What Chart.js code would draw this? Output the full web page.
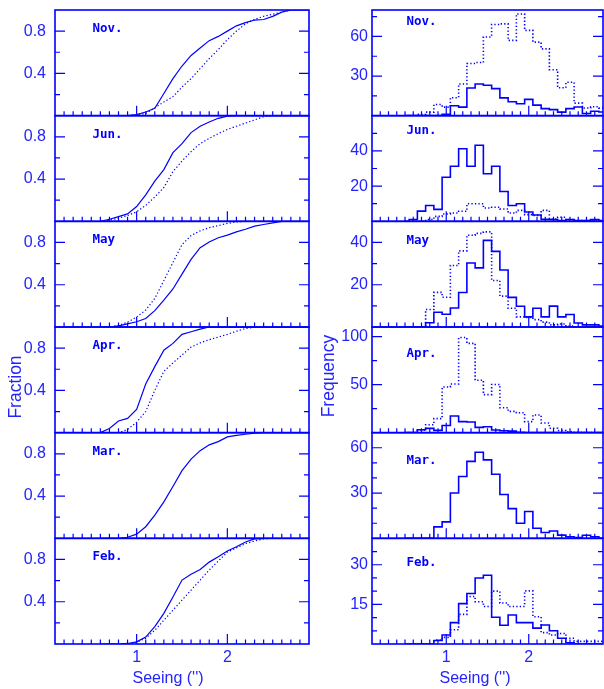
<!DOCTYPE html>
<html lang="en">
<head>
<meta charset="UTF-8" />
<title>Seeing by month</title>
<script src="https://cdn.jsdelivr.net/npm/chart.js"></script>
<style>
  body { margin: 0; background: #fff; }
  #wrap { position: relative; width: 604px; height: 689px; }
  #wrap canvas { position: absolute; left: 0; top: 0; }
</style>
</head>
<body>
<div id="wrap"></div>
<script>
// ---- data ----
const months = ['Nov.', 'Jun.', 'May', 'Apr.', 'Mar.', 'Feb.'];
const seeing = [0.6, 0.7, 0.8, 0.9, 1.0, 1.1, 1.2, 1.3, 1.4, 1.5, 1.6, 1.7, 1.8, 1.9, 2.0, 2.1, 2.2, 2.3, 2.4, 2.5, 2.6, 2.7, 2.8, 2.9];
const xTickLabels = ['1', '2'];
const fracTickLabels = ['0.4', '0.8'];
const freqTickLabels = [['30', '60'], ['20', '40'], ['20', '40'], ['50', '100'], ['30', '60'], ['15', '30']];
const freqMax = [80, 60, 50, 110, 70, 40];
const freqStep = [15, 10, 10, 25, 10, 5];

// cumulative fraction (left column)
const fracNovSolid  = [0, 0, 0, 0, 0.01, 0.035, 0.07, 0.21, 0.35, 0.47, 0.57, 0.64, 0.71, 0.75, 0.80, 0.85, 0.88, 0.905, 0.91, 0.94, 0.98, 1, 1, 1];
const fracNovDotted = [0, 0, 0, 0, 0.01, 0.02, 0.075, 0.13, 0.18, 0.27, 0.35, 0.445, 0.54, 0.625, 0.72, 0.80, 0.87, 0.91, 0.94, 0.96, 0.98, 1, 1, 1];
const fracJunSolid  = [0, 0.02, 0.045, 0.07, 0.14, 0.25, 0.38, 0.49, 0.65, 0.735, 0.84, 0.90, 0.94, 0.975, 0.995, 1, 1, 1, 1, 1, 1, 1, 1, 1];
const fracJunDotted = [0, 0.01, 0.03, 0.055, 0.09, 0.15, 0.23, 0.32, 0.47, 0.57, 0.66, 0.735, 0.785, 0.83, 0.87, 0.90, 0.93, 0.96, 0.99, 1, 1, 1, 1, 1];
const fracMaySolid  = [0, 0, 0.01, 0.03, 0.05, 0.08, 0.155, 0.255, 0.36, 0.5, 0.64, 0.75, 0.805, 0.845, 0.87, 0.9, 0.925, 0.955, 0.97, 0.985, 1, 1, 1, 1];
const fracMayDotted = [0, 0, 0.015, 0.045, 0.095, 0.16, 0.27, 0.44, 0.61, 0.78, 0.865, 0.91, 0.94, 0.96, 0.98, 0.995, 1, 1, 1, 1, 1, 1, 1, 1];
const fracAprSolid  = [0, 0.04, 0.11, 0.135, 0.22, 0.46, 0.625, 0.78, 0.845, 0.93, 0.955, 0.98, 1, 1, 1, 1, 1, 1, 1, 1, 1, 1, 1, 1];
const fracAprDotted = [0, 0, 0, 0.03, 0.1, 0.2, 0.4, 0.58, 0.66, 0.735, 0.81, 0.85, 0.88, 0.905, 0.93, 0.96, 0.985, 1, 1, 1, 1, 1, 1, 1];
const fracMarSolid  = [0, 0, 0, 0.01, 0.04, 0.11, 0.22, 0.345, 0.49, 0.64, 0.75, 0.83, 0.885, 0.915, 0.96, 0.975, 0.985, 0.995, 1, 1, 1, 1, 1, 1];
const fracFebSolid  = [0, 0, 0, 0.005, 0.02, 0.065, 0.165, 0.29, 0.445, 0.605, 0.66, 0.705, 0.775, 0.825, 0.88, 0.92, 0.965, 0.995, 1, 1, 1, 1, 1, 1];
const fracFebDotted = [0, 0, 0, 0, 0.015, 0.055, 0.13, 0.225, 0.32, 0.415, 0.51, 0.605, 0.7, 0.785, 0.87, 0.91, 0.95, 0.975, 0.995, 1, 1, 1, 1, 1];

// histograms, 0.1" bins centred on `seeing` (right column)
const histNovSolid  = [0, 0, 0, 0, 1, 7.5, 6.5, 21, 24, 23, 20.5, 13.5, 10.5, 9, 12.3, 8, 5.3, 4.6, 2.7, 5.3, 6.6, 1.6, 3.3, 2.8];
const histNovDotted = [0, 1, 2.7, 8.4, 6.5, 13.6, 24, 39.5, 40.2, 59.6, 69, 69.5, 57, 77, 64.6, 55.7, 50.6, 34.8, 21.1, 25.3, 9.5, 5.8, 6.7, 5.7];
const histJunSolid  = [1, 5.8, 9, 6.8, 25, 31.3, 41.2, 31.3, 43.2, 27, 31.3, 16.9, 9, 10, 5.3, 3.6, 1.2, 1, 0.5, 1, 0.5, 0.5, 1, 0.5];
const histJunDotted = [0, 0, 1, 2.8, 4.2, 4.7, 5.7, 10, 10, 7.6, 8, 7, 4.7, 6.2, 3.8, 3.4, 6.2, 1.3, 2.3, 1, 0.5, 0.5, 0.5, 0.5];
const histMaySolid  = [0, 0, 2, 7, 6, 9, 16.3, 30.3, 28, 41, 35.8, 27, 14, 9.8, 4.8, 8.9, 4.8, 9.9, 4.8, 5.9, 1.9, 1, 1, 0.5];
const histMayDotted = [0, 0, 8.3, 16.4, 14.1, 29.1, 36, 43.4, 44.3, 45, 22, 14.6, 8.9, 4.8, 4.5, 3.5, 2.3, 1, 1.4, 0.5, 0, 0, 0, 0];
const histAprSolid  = [0, 3, 4.5, 2.4, 7.5, 17.4, 11.5, 11.1, 5.5, 6.2, 2.7, 2, 1.6, 0.5, 0, 0, 0, 0, 0, 0, 0, 0, 0, 0];
const histAprDotted = [0, 2.5, 8.3, 14.6, 47.5, 50.7, 99, 93, 54.6, 39.6, 50.2, 26, 22.2, 20.7, 11.5, 18.4, 10, 4.6, 2.3, 1, 0.5, 0, 0, 0];
const histMarSolid  = [0, 0, 0, 7.6, 10.9, 30, 41, 51, 57, 52, 42.5, 29, 19.7, 10, 17.8, 6.7, 3.9, 4.9, 2.1, 1, 0.5, 2, 1, 0];
const histFebSolid  = [0, 0, 0, 1.3, 3.4, 8.1, 15.3, 19.1, 25, 26, 10.1, 7.1, 11, 8.1, 8.1, 6, 7.2, 5, 2.2, 0.5, 0, 0, 0, 0];
const histFebDotted = [0, 0, 0, 1.5, 2.5, 5.4, 11.2, 18, 16, 14.2, 20, 15.5, 14.2, 14.2, 20.1, 10.3, 4.3, 3.4, 4, 2.2, 1, 1, 1, 1];

const fracSeries = [
  [fracNovSolid, fracNovDotted], [fracJunSolid, fracJunDotted], [fracMaySolid, fracMayDotted],
  [fracAprSolid, fracAprDotted], [fracMarSolid], [fracFebSolid, fracFebDotted]
];
const histSeries = [
  [histNovSolid, histNovDotted], [histJunSolid, histJunDotted], [histMaySolid, histMayDotted],
  [histAprSolid, histAprDotted], [histMarSolid], [histFebSolid, histFebDotted]
];

// ---- layout / style ----
const BLUE = '#0000ff';
const INK = '#2424ff';
const SANS = '"Liberation Sans", Arial, sans-serif';
const W = 604, H = 689;
const TOP = 10, BOTTOM = 644, ROW_H = (BOTTOM - TOP) / 6;
const COLS = [
  { left: 55, right: 309, axisW: 55, labelPad: 9, monthX: 92.5, monthDy: [17.6, 17.6, 17.6, 17.6, 17.6, 17.6],
    yTitle: 'Fraction', yTitleX: 16, yTitleY: 387, xTitleX: 168 },
  { left: 372, right: 603, axisW: 57, labelPad: 4, monthX: 406.5, monthDy: [10, 14, 18.5, 25.3, 26.7, 23],
    yTitle: 'Frequency', yTitleX: 329, yTitleY: 376, xTitleX: 475 }
];

const wrap = document.getElementById('wrap');

function histPoints(counts) {
  const pts = [{ x: seeing[0] - 0.1, y: 0 }];
  counts.forEach((c, i) => pts.push({ x: seeing[i], y: c }));
  pts.push({ x: seeing[seeing.length - 1] + 0.1, y: 0 });
  return pts;
}

function cdfPoints(frac) {
  return frac.map((f, i) => ({ x: seeing[i], y: f }));
}

function panel(col, row) {
  const c = COLS[col];
  const top = TOP + row * ROW_H, bottom = top + ROW_H;
  const last = row === 5;
  const xH = last ? 45 : 0;
  const isHist = col === 1;
  const series = isHist ? histSeries[row] : fracSeries[row];
  const yLabels = isHist ? freqTickLabels[row] : fracTickLabels;

  const canvas = document.createElement('canvas');
  canvas.width = W; canvas.height = H;
  canvas.style.width = W + 'px'; canvas.style.height = H + 'px';
  wrap.appendChild(canvas);

  const datasets = series.map((s, i) => ({
    data: isHist ? histPoints(s) : cdfPoints(s),
    borderColor: BLUE,
    borderWidth: isHist ? 1.6 : 1.2,
    borderDash: i === 0 ? [] : [1.3, 2.2],
    stepped: isHist ? 'middle' : false,
    pointRadius: 0,
    fill: false,
    tension: 0
  }));

  const decor = {
    id: 'decor' + col + row,
    afterDraw(chart) {
      const { ctx, chartArea: a, scales: { x, y } } = chart;
      ctx.save();
      ctx.strokeStyle = BLUE;
      ctx.lineWidth = 1.2;
      ctx.beginPath();
      x.ticks.forEach(t => {
        if (t.value <= x.min + 1e-6 || t.value >= x.max - 1e-6) return;
        const px = x.getPixelForValue(t.value);
        const len = Math.abs(t.value - Math.round(t.value)) < 1e-6 ? 10 : 4.5;
        ctx.moveTo(px, a.bottom); ctx.lineTo(px, a.bottom - len);
      });
      y.ticks.forEach(t => {
        if (t.value <= y.min + 1e-6 || t.value >= y.max - 1e-6) return;
        const py = y.getPixelForValue(t.value);
        const len = t.label ? 10 : 5;
        ctx.moveTo(a.left, py); ctx.lineTo(a.left + len, py);
        ctx.moveTo(a.right, py); ctx.lineTo(a.right - len, py);
      });
      ctx.stroke();
      ctx.lineWidth = 1.6;
      ctx.strokeRect(a.left, a.top, a.right - a.left, a.bottom - a.top);

      // month tag
      ctx.fillStyle = BLUE;
      ctx.font = 'bold 12.5px "DejaVu Sans Mono", monospace';
      ctx.textAlign = 'left';
      ctx.textBaseline = 'alphabetic';
      ctx.fillText(months[row], c.monthX, a.top + c.monthDy[row] + 4.5);

      // axis titles
      ctx.fillStyle = INK;
      ctx.font = '17.5px ' + SANS;
      ctx.textAlign = 'center';
      ctx.textBaseline = 'middle';
      if (row === 3) {
        ctx.save();
        ctx.translate(c.yTitleX, c.yTitleY);
        ctx.rotate(-Math.PI / 2);
        ctx.fillText(c.yTitle, 0, 0);
        ctx.restore();
      }
      if (last) {
        ctx.font = '16px ' + SANS;
        ctx.fillText("Seeing ('')", c.xTitleX, 679);
      }
      ctx.restore();
    }
  };

  new Chart(canvas, {
    type: 'line',
    data: { datasets },
    options: {
      responsive: false,
      animation: false,
      layout: { padding: { left: c.left - c.axisW, right: W - c.right, top: top, bottom: H - bottom - xH } },
      plugins: { legend: { display: false }, tooltip: { enabled: false } },
      scales: {
        x: {
          type: 'linear', min: 0.1, max: 2.9,
          afterFit: s => { s.height = xH; s.paddingLeft = 0; s.paddingRight = 0; },
          grid: { display: false, drawTicks: false },
          border: { display: false },
          ticks: {
            display: last, stepSize: 0.1, autoSkip: false, maxRotation: 0, includeBounds: false,
            padding: 6, color: INK, font: { family: SANS, size: 16, lineHeight: 1 },
            callback: v => {
              const r = Math.round(v);
              return Math.abs(v - r) < 1e-6 && xTickLabels.includes(String(r)) ? String(r) : '';
            }
          }
        },
        y: {
          min: 0, max: isHist ? freqMax[row] : 1,
          afterFit: s => { s.width = c.axisW; s.paddingTop = 0; s.paddingBottom = 0; },
          grid: { display: false, drawTicks: false },
          border: { display: false },
          ticks: {
            stepSize: isHist ? freqStep[row] : 0.2, autoSkip: false, includeBounds: false,
            padding: c.labelPad, color: INK, font: { family: SANS, size: 16, lineHeight: 1 },
            callback: v => {
              const s = isHist ? String(Math.round(v)) : (+v).toFixed(1);
              return yLabels.includes(s) ? s : '';
            }
          }
        }
      }
    },
    plugins: [decor]
  });
}

for (let row = 0; row < 6; row++) {
  panel(0, row);
  panel(1, row);
}
</script>
</body>
</html>
